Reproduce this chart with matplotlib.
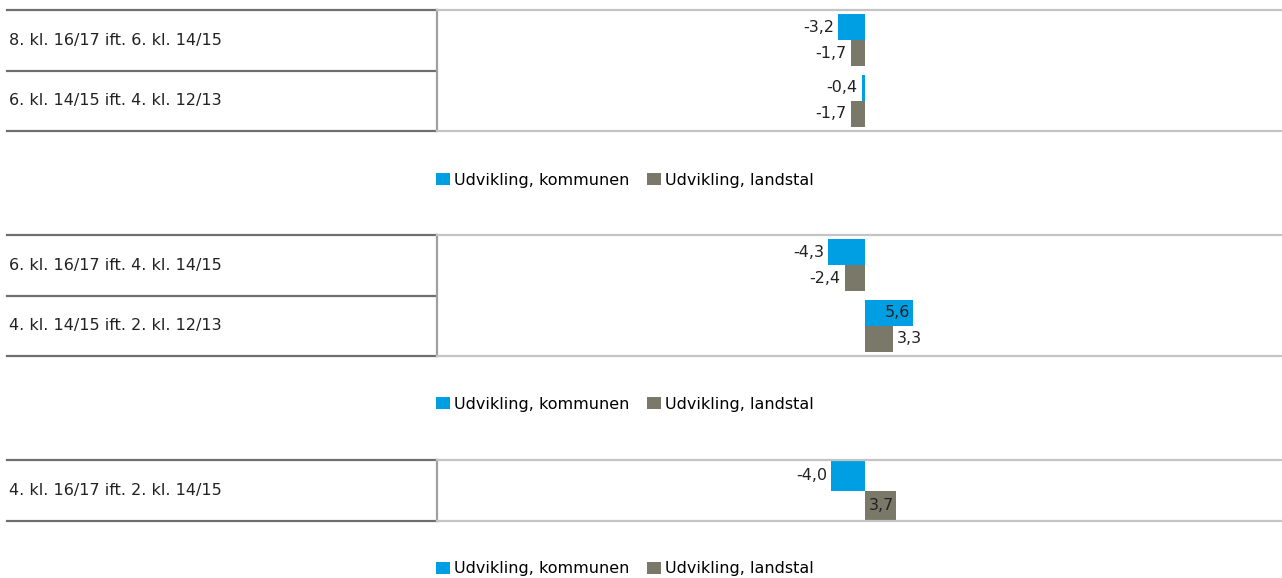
import matplotlib
matplotlib.use("Agg")
import matplotlib.pyplot as plt

# ---- data ----
series_names = ["Udvikling, kommunen", "Udvikling, landstal"]

panel1_labels = ["8. kl. 16/17 ift. 6. kl. 14/15", "6. kl. 14/15 ift. 4. kl. 12/13"]
panel1_kommune = [-3.2, -0.4]
panel1_landstal = [-1.7, -1.7]

panel2_labels = ["6. kl. 16/17 ift. 4. kl. 14/15", "4. kl. 14/15 ift. 2. kl. 12/13"]
panel2_kommune = [-4.3, 5.6]
panel2_landstal = [-2.4, 3.3]

panel3_labels = ["4. kl. 16/17 ift. 2. kl. 14/15"]
panel3_kommune = [-4.0]
panel3_landstal = [3.7]

# ---- style ----
W, H = 1282, 578
BLUE = "#009fe3"
GREY = "#7a7868"
FS = 11.5

plt.rcParams['font.family'] = ['DejaVu Sans']

fig = plt.figure(figsize=(W / 100, H / 100), dpi=100)


def fx(px):
    return px / W


def fy(py):
    return 1 - py / H


X0, XT, X1 = 7, 437, 1282
ZERO = 865
PPU = 8.5  # pixels per unit

panels = [
    dict(labels=panel1_labels, kom=panel1_kommune, land=panel1_landstal,
         top=10, bottom=131, h=0.43, legend_y=180,
         pos_kom=["out", "out"], pos_land=["out", "out"]),
    dict(labels=panel2_labels, kom=panel2_kommune, land=panel2_landstal,
         top=235, bottom=356, h=0.43, legend_y=404,
         pos_kom=["out", "in"], pos_land=["out", "out"]),
    dict(labels=panel3_labels, kom=panel3_kommune, land=panel3_landstal,
         top=460, bottom=521, h=0.485, legend_y=569,
         pos_kom=["out"], pos_land=["in"]),
]


def fmt(v):
    return f"{v:.1f}".replace(".", ",")


for p in panels:
    n = len(p["labels"])
    top, bot = p["top"], p["bottom"]
    # table axes
    tax = fig.add_axes([fx(X0), fy(bot), fx(XT) - fx(X0), fy(top) - fy(bot)])
    tax.set_xlim(0, 1)
    tax.set_ylim(n - 0.5, -0.5)
    tax.axis("off")
    for k in range(n + 1):
        tax.axhline(k - 0.5, color="#6e6e6e", lw=1.6, clip_on=False)
    for i, lab in enumerate(p["labels"]):
        tax.text(0.004, i, lab, va="center", ha="left", fontsize=FS, color="#222222")

    # bar axes
    ax = fig.add_axes([fx(XT), fy(bot), fx(X1) - fx(XT), fy(top) - fy(bot)])
    ax.set_xlim(-(ZERO - XT) / PPU, (X1 - ZERO) / PPU)
    ax.set_ylim(n - 0.5, -0.5)
    h = p["h"]
    ys = list(range(n))
    b1 = ax.barh([y - h / 2 for y in ys], p["kom"], height=h, color=BLUE,
                 label=series_names[0])
    b2 = ax.barh([y + h / 2 for y in ys], p["land"], height=h, color=GREY,
                 label=series_names[1])
    for bars, vals, poss in ((b1, p["kom"], p["pos_kom"]), (b2, p["land"], p["pos_land"])):
        for rect, v, pos in zip(bars, vals, poss):
            yc = rect.get_y() + rect.get_height() / 2
            end = v
            if pos == "out":
                off = -4 if v < 0 else 4
                ha = "right" if v < 0 else "left"
            else:
                off = 4 if v < 0 else -2
                ha = "left" if v < 0 else "right"
            ax.annotate(fmt(v), (end, yc), xytext=(off, 0), textcoords="offset pixels",
                        ha=ha, va="center", fontsize=FS, color="#222222")
    for s in ("right",):
        ax.spines[s].set_visible(False)
    ax.spines["top"].set_color("#c4c4c4")
    ax.spines["bottom"].set_color("#c4c4c4")
    ax.spines["top"].set_linewidth(1.6)
    ax.spines["bottom"].set_linewidth(1.6)
    ax.spines["left"].set_color("#a0a0a0")
    ax.spines["left"].set_linewidth(1.6)
    ax.set_xticks([])
    ax.set_yticks([])

    fig.legend([b1, b2], series_names, loc="center left",
               bbox_to_anchor=(fx(XT - 1), fy(p["legend_y"])), ncol=2, frameon=False,
               borderpad=0, borderaxespad=0, handlelength=0.85, handleheight=0.85,
               handletextpad=0.25, columnspacing=1.15, fontsize=FS)

fig.savefig("out.png", dpi=100)
